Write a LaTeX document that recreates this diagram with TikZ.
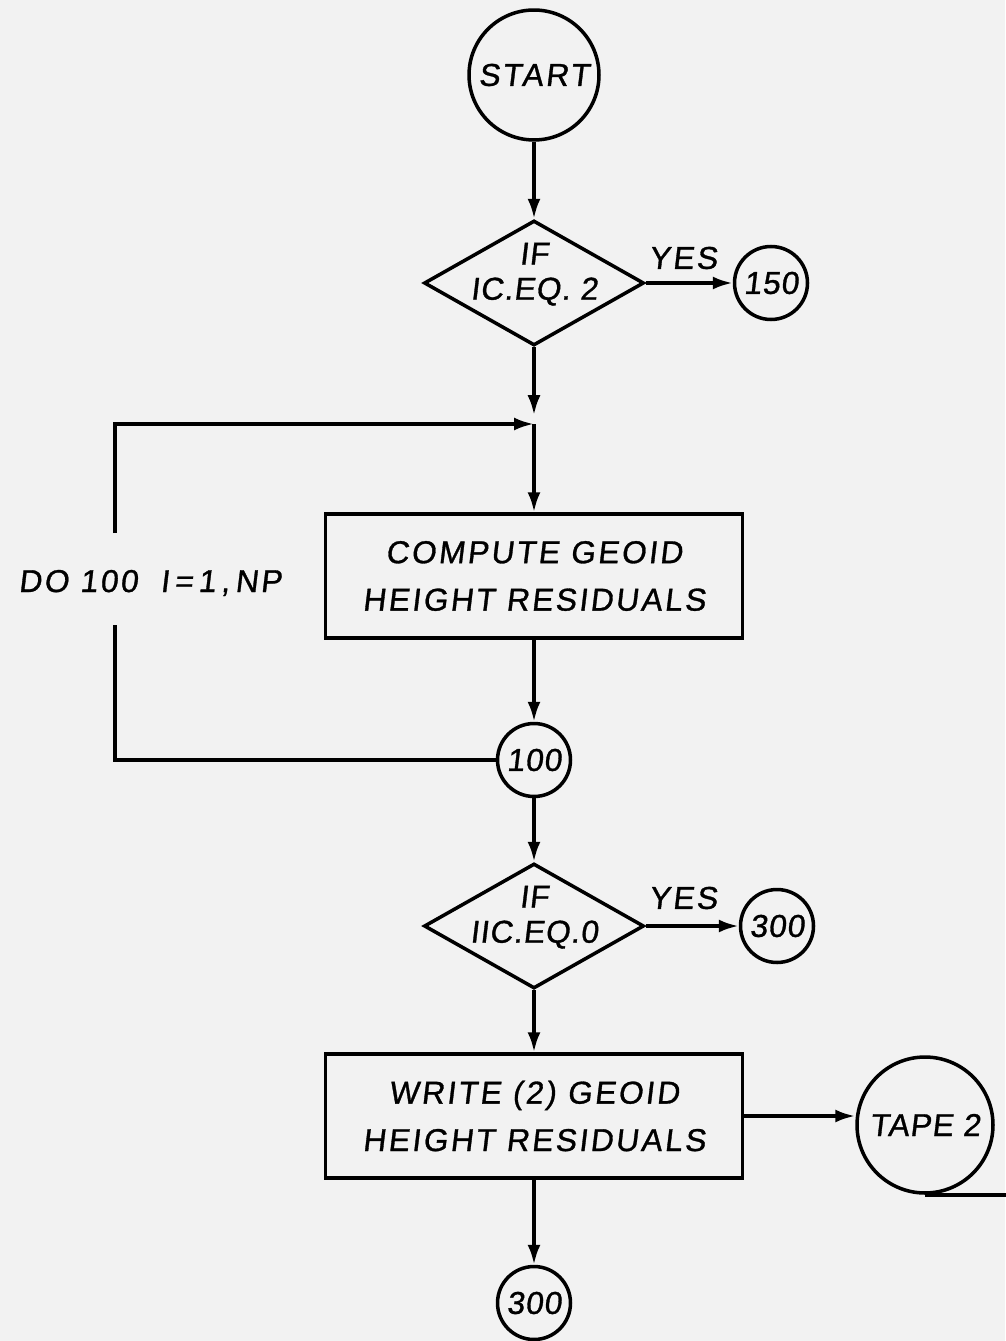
\documentclass[tikz,border=0pt]{standalone}
\usepackage{fontspec}
\setmainfont{Liberation Sans}[FakeSlant=0.12, FakeBold=1, LetterSpace=8]
\newfontfamily\tightfont{Liberation Sans}[FakeSlant=0.12, FakeBold=1, LetterSpace=3]
\usetikzlibrary{arrows.meta, shapes.geometric}

\begin{document}
\begin{tikzpicture}[
  x=0.02cm, y=-0.02cm,
  line width=2pt,
  font=\fontsize{18}{21}\selectfont,
  term/.style={circle, draw, minimum size=2.6cm, inner sep=0pt},
  conn/.style={circle, draw, minimum size=1.46cm, inner sep=0pt, font=\tightfont\fontsize{18}{21}\selectfont},
  proc/.style={rectangle, draw, minimum width=8.34cm, minimum height=2.48cm, align=center, font=\fontsize{18}{27}\selectfont},
  decide/.style={diamond, draw, minimum width=4.4cm, minimum height=2.5cm, inner sep=0pt},
  dtext/.style={align=center, font=\tightfont\fontsize{18}{20}\selectfont, yshift=5pt},
  arr/.style={-{Latex[length=4mm, width=2.6mm]}},
  lab/.style={inner sep=1pt},
]

% page
\fill[black!5] (0,0) rectangle (1005,1341);
\useasboundingbox (0,0) rectangle (1005,1341);

% ---------------------------------------------------------------
% upper part: start, first test, loop body
% ---------------------------------------------------------------
\node[term] (start) at (534,75) {START};
\node[decide, label={[dtext]center:IF\\IC.EQ. 2}] (ifone) at (534,283) {};
\node[conn] (c150) at (771,283) {150};
\node[lab] (yesone) at (683,258) {YES};

\coordinate (merge) at (534,424);
\node[proc] (compute) at (534,576) {COMPUTE GEOID\\HEIGHT RESIDUALS};
\node[conn] (c100) at (534,760) {100};

% loop back line with its label
\node[lab] (dolab) at (150,583) {DO 100\ \ I\,=\,1\,,\,NP};
\coordinate (gaptop) at (115,533);
\coordinate (gapbot) at (115,625);

\draw[arr] (start) -- (ifone.north);
\draw[arr] (ifone.east) -- (c150.west);
\draw[arr, shorten >=5pt] (ifone.south) -- (merge);
\draw[arr] (merge) -- (compute.north);
\draw[arr] (compute.south) -- (c100.north);
\draw (c100.west) -| (gapbot);
\draw[arr] (gaptop) |- (merge);

% ---------------------------------------------------------------
% lower part: second test, write, tape
% ---------------------------------------------------------------
\node[decide, label={[dtext]center:IF\\IIC.EQ.0}] (iftwo) at (534,926) {};
\node[conn] (c300a) at (777,926) {300};
\node[lab] (yestwo) at (683,898) {YES};

\node[proc] (write) at (534,1116) {WRITE (2) GEOID\\HEIGHT RESIDUALS};
\node[circle, draw, minimum size=2.72cm, inner sep=0pt, font=\tightfont\fontsize{18}{21}\selectfont] (tape) at (925,1125) {TAPE 2};
\coordinate (tapeend) at (1010,0);
\node[conn] (c300b) at (534,1303) {300};

\draw[arr] (c100.south) -- (iftwo.north);
\draw[arr] (iftwo.east) -- (c300a.west);
\draw[arr] (iftwo.south) -- (write.north);
\draw[arr] (write.east) -- (tape.west |- write.east);
\draw (tape.south) -- (tape.south -| tapeend);
\draw[arr] (write.south) -- (c300b.north);

\end{tikzpicture}
\end{document}
